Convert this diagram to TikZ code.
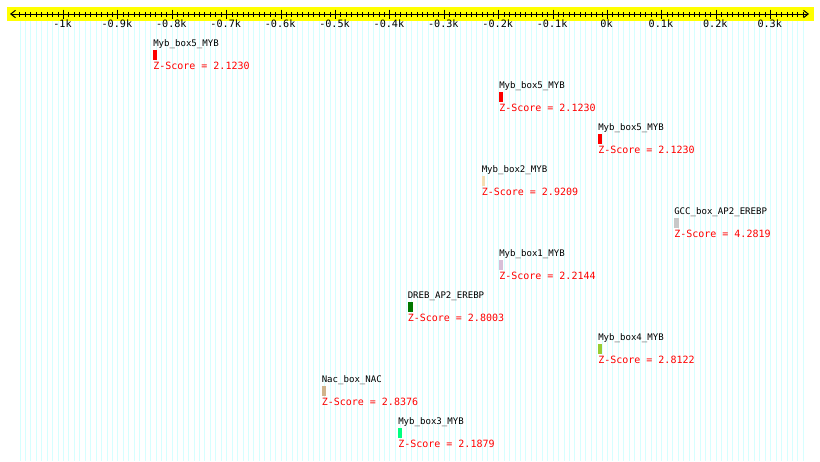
\documentclass[tikz,border=0pt]{standalone}
\usepackage{fontspec}
\setmonofont{DejaVu Sans Mono}
\usetikzlibrary{arrows.meta}
\definecolor{bandyellow}{RGB}{255,255,0}
\definecolor{gridcyan}{RGB}{214,255,255}
\definecolor{boxred}{RGB}{255,0,0}
\definecolor{boxpeach}{RGB}{245,222,179}
\definecolor{boxsilver}{RGB}{200,200,200}
\definecolor{boxthistle}{RGB}{216,191,216}
\definecolor{boxgreen}{RGB}{0,120,0}
\definecolor{boxyellowgreen}{RGB}{154,205,50}
\definecolor{boxtan}{RGB}{210,180,140}
\definecolor{boxspring}{RGB}{0,255,127}
\tikzset{
	motifname/.style = {anchor = base west, inner sep = 0pt, font = \ttfamily\fontsize{6.8}{7}\selectfont},
	zscore/.style = {anchor = base west, inner sep = 0pt, text = red, font = \ttfamily\fontsize{7.5}{8}\selectfont},
	ticklabel/.style = {anchor = base, inner sep = 0pt, font = \ttfamily\fontsize{7.6}{8}\selectfont},
	motifbox/.style = {anchor = north west, inner sep = 0pt, minimum height = 7.1pt},
	axisline/.style = {line width = 0.75pt, {Straight Barb[length=3.5pt,width=5.5pt]}-{Straight Barb[length=3.5pt,width=5.5pt]}}
}
\begin{document}
\begin{tikzpicture} [x = 0.75pt, y = -0.75pt]
	\useasboundingbox (0,0) rectangle (820,461);
	\fill [white] (0,0) rectangle (820,461);
	% grid lines every 10 bp
	\foreach \t in {-108,...,36}
		\draw [gridcyan, line width = 0.7pt] ({607.5+5.44*\t},21) -- ({607.5+5.44*\t},461);
	% ruler
	\fill [bandyellow] (7,7) rectangle (814,21);
	\coordinate (axisL) at (10,14);
	\coordinate (axisR) at (809,14);
	\draw [axisline] (axisL) -- (axisR);
	\foreach \t in {-108,...,36}
		\draw [line width = 0.75pt] ({607.5+5.44*\t},12) -- ({607.5+5.44*\t},16.7);
	\foreach \k/\lab in {-10/-1k, -9/-0.9k, -8/-0.8k, -7/-0.7k, -6/-0.6k, -5/-0.5k, -4/-0.4k, -3/-0.3k, -2/-0.2k, -1/-0.1k, 0/0k, 1/0.1k, 2/0.2k, 3/0.3k} {
		\draw [line width = 0.75pt] ({607.5+54.4*\k},9.5) -- ({607.5+54.4*\k},18.5);
		\node [ticklabel] (tick\k) at ({606.5+54.4*\k},27.6) {\lab};
	}
	% motifs: row / left x / box width / name / colour / score
	\foreach \row/\x/\w/\name/\col/\z in {
		0/153/3.5/Myb\_box5\_MYB/boxred/2.1230,
		1/499/3.5/Myb\_box5\_MYB/boxred/2.1230,
		2/598/3.5/Myb\_box5\_MYB/boxred/2.1230,
		3/481.5/3.5/Myb\_box2\_MYB/boxpeach/2.9209,
		4/674/4.5/GCC\_box\_AP2\_EREBP/boxsilver/4.2819,
		5/499/3.5/Myb\_box1\_MYB/boxthistle/2.2144,
		6/407.5/5/DREB\_AP2\_EREBP/boxgreen/2.8003,
		7/598/3.5/Myb\_box4\_MYB/boxyellowgreen/2.8122,
		8/321.5/4.5/Nac\_box\_NAC/boxtan/2.8376,
		9/398/3.5/Myb\_box3\_MYB/boxspring/2.1879} {
		\node [motifname] (name\row) at ({\x},{46.8+42*\row}) {\name};
		\node [motifbox, fill = \col, minimum width = {\w*0.75pt}] (box\row) at ({\x},{50+42*\row}) {};
		\node [zscore] (z\row) at ({\x},{69.5+42*\row}) {Z-Score = \z};
	}
\end{tikzpicture}
\end{document}
